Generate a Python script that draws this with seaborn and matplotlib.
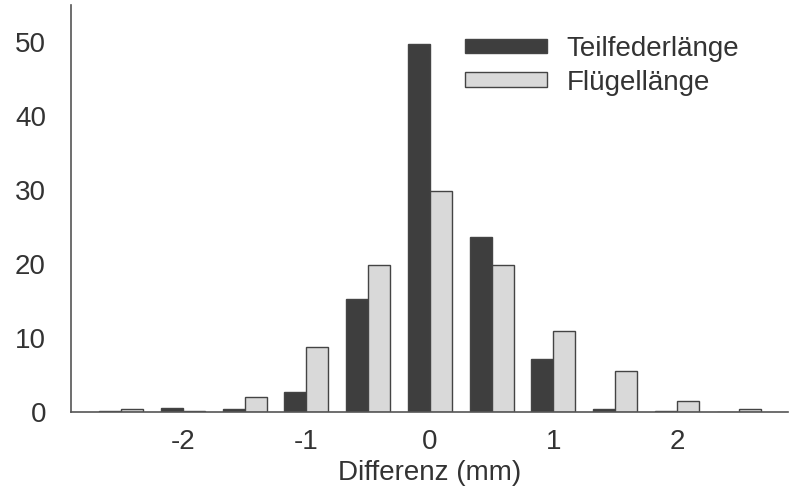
import matplotlib
matplotlib.use("Agg")
import matplotlib.pyplot as plt
import seaborn as sns
import pandas as pd

differenz = [-2.5, -2.0, -1.5, -1.0, -0.5, 0.0, 0.5, 1.0, 1.5, 2.0, 2.5]
teilfeder = [0.2, 0.5, 0.35, 2.7, 15.3, 49.7, 23.6, 7.1, 0.35, 0.15, 0.0]
fluegel = [0.45, 0.2, 2.0, 8.8, 19.9, 29.8, 19.9, 10.9, 5.6, 1.5, 0.4]
series_names = ["Teilfederlänge", "Flügellänge"]
xticks = [-2, -1, 0, 1, 2]
yticks = [0, 10, 20, 30, 40, 50]

df = pd.DataFrame({
    "Differenz": differenz * 2,
    "Wert": teilfeder + fluegel,
    "Serie": [series_names[0]] * len(differenz) + [series_names[1]] * len(differenz),
})

sns.set_theme(style="white")
plt.rcParams["font.family"] = ["Liberation Sans", "DejaVu Sans"]

fig = plt.figure(figsize=(7.92, 4.99), dpi=100)
ax = fig.add_axes([0.0896, 0.1743, 0.9054, 0.8157])

sns.barplot(data=df, x="Differenz", y="Wert", hue="Serie", native_scale=True,
            palette=["#3e3e3e", "#d9d9d9"], width=0.712, dodge=True,
            edgecolor="#444444", linewidth=1.0, saturation=1, ax=ax, errorbar=None)

ax.set_xlim(-2.905, 2.9)
ax.set_ylim(0, 55)
ax.set_xticks(xticks)
ax.set_xticklabels([str(t) for t in xticks])
ax.set_yticks(yticks)
for s in ["top", "right"]:
    ax.spines[s].set_visible(False)
for s in ["left", "bottom"]:
    ax.spines[s].set_color("#555555")
    ax.spines[s].set_linewidth(1.2)
ax.tick_params(axis="y", direction="out", length=6, width=1, color="#555555",
               labelsize=20, labelcolor="#333333", pad=12)
ax.tick_params(axis="x", length=0, labelsize=20, labelcolor="#333333", pad=12)
ax.set_xlabel("Differenz (mm)", fontsize=20, color="#333333", labelpad=4)
ax.set_ylabel("")

ax.legend(loc="upper left", bbox_to_anchor=(0.587, 0.928), bbox_transform=fig.transFigure,
          frameon=False, fontsize=20, handlelength=2.95, handleheight=0.45,
          labelspacing=0.28, handletextpad=0.72, borderaxespad=0, borderpad=0,
          labelcolor="#333333")

fig.savefig("out.png", dpi=100)
